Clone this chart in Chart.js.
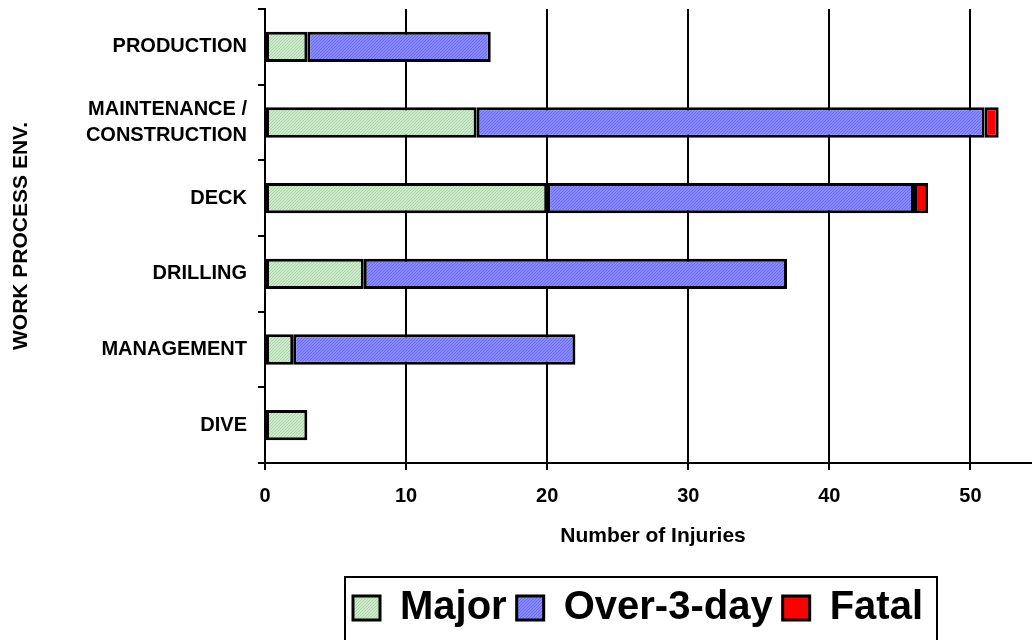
<!DOCTYPE html>
<html>
<head>
<meta charset="utf-8">
<script src="https://cdn.jsdelivr.net/npm/chart.js@4/dist/chart.umd.min.js"></script>
<style>
  html, body { margin: 0; padding: 0; background: #fff; overflow: hidden; }
  #wrap { width: 1041px; height: 640px; position: relative; }
</style>
</head>
<body>
<div id="wrap"><canvas id="injuryChart"></canvas></div>
<script>
// data
var categories = ['PRODUCTION', ['MAINTENANCE /', 'CONSTRUCTION'], 'DECK', 'DRILLING', 'MANAGEMENT', 'DIVE'];
var majorData = [3, 15, 20, 7, 2, 3];
var over3Data = [13, 36, 26, 30, 20, null];
var fatalData = [null, 1, 1, null, null, null];
var xTicks = [0, 10, 20, 30, 40, 50];

var FONT = "'Liberation Sans', Arial, sans-serif";

// little dotted fills, like the old office charts
function makePattern(base, dot) {
    var c = document.createElement('canvas');
    c.width = 3; c.height = 3;
    var g = c.getContext('2d');
    g.fillStyle = base;
    g.fillRect(0, 0, 3, 3);
    g.fillStyle = dot;
    g.fillRect(0, 0, 1, 1);
    g.fillRect(2, 1, 1, 1);
    g.fillRect(1, 2, 1, 1);
    return g.createPattern(c, 'repeat');
}

var greenFill = makePattern('#cdeacd', '#a9d5a9');
var blueFill = makePattern('#8a8aff', '#6a6af2');

// shift legend so it sits where the old one did, then frame it
var legendFrame = {
    id: 'legendFrame',
    afterLayout: function (chart) {
        var lg = chart.legend;
        if (!lg || !lg.lineWidths) return;
        var pad = lg.options.labels.padding;
        var start = (lg.left + pad + lg.right - lg.lineWidths[0]) / 2;
        var d = start - 353;
        lg.left -= d;
        lg.right -= d;
    },
    afterDraw: function (chart) {
        var ctx = chart.ctx;
        ctx.save();
        ctx.strokeStyle = '#000';
        ctx.lineWidth = 2;
        ctx.strokeRect(345, 577, 592, 80);
        ctx.restore();
    }
};

var ctx = document.getElementById('injuryChart').getContext('2d');
var chart = new Chart(ctx, {
    type: 'bar',
    data: {
        labels: categories,
        datasets: [
            {
                label: 'Major',
                data: majorData,
                backgroundColor: greenFill,
                borderColor: '#000',
                borderWidth: 3,
                borderSkipped: false,
                categoryPercentage: 1,
                barPercentage: 0.4
            },
            {
                label: 'Over-3-day',
                data: over3Data,
                backgroundColor: blueFill,
                borderColor: '#000',
                borderWidth: 3,
                borderSkipped: false,
                categoryPercentage: 1,
                barPercentage: 0.4
            },
            {
                label: 'Fatal',
                data: fatalData,
                backgroundColor: '#ff0000',
                borderColor: '#000',
                borderWidth: 3,
                borderSkipped: false,
                categoryPercentage: 1,
                barPercentage: 0.4
            }
        ]
    },
    options: {
        indexAxis: 'y',
        responsive: true,
        maintainAspectRatio: false,
        animation: false,
        layout: { padding: { top: 9, left: 0, right: 0, bottom: 2 } },
        plugins: {
            legend: {
                position: 'bottom',
                fullSize: false,
                labels: {
                    color: '#000',
                    boxWidth: 27,
                    boxHeight: 24,
                    padding: 10,
                    font: { family: FONT, size: 40, weight: 'bold' }
                }
            },
            tooltip: { enabled: false }
        },
        scales: {
            x: {
                stacked: true,
                min: 0,
                max: 55,
                afterBuildTicks: function (scale) {
                    scale.ticks = xTicks.map(function (v) { return { value: v }; });
                },
                afterFit: function (scale) { scale.height = 115; },
                grid: { color: '#000', lineWidth: 2, tickLength: 7 },
                border: { color: '#000', width: 2 },
                ticks: {
                    color: '#000',
                    padding: 14,
                    maxRotation: 0,
                    font: { family: FONT, size: 20, weight: 'bold' }
                },
                title: {
                    display: true,
                    text: 'Number of Injuries',
                    color: '#000',
                    padding: { top: 0, bottom: 29 },
                    font: { family: FONT, size: 21, weight: 'bold' }
                }
            },
            y: {
                stacked: true,
                afterFit: function (scale) {
                    scale.width = 265;
                    scale.paddingTop = 0;
                    scale.paddingBottom = 0;
                },
                grid: { drawOnChartArea: false, color: '#000', lineWidth: 2, tickLength: 7, offset: true },
                border: { color: '#000', width: 2 },
                ticks: {
                    color: '#000',
                    padding: 11,
                    font: { family: FONT, size: 20, weight: 'bold', lineHeight: 1.3 }
                },
                title: {
                    display: true,
                    text: 'WORK PROCESS ENV.',
                    color: '#000',
                    padding: { top: 9, bottom: 0 },
                    font: { family: FONT, size: 21, weight: 'bold' }
                }
            }
        }
    },
    plugins: [legendFrame]
});
</script>
</body>
</html>
